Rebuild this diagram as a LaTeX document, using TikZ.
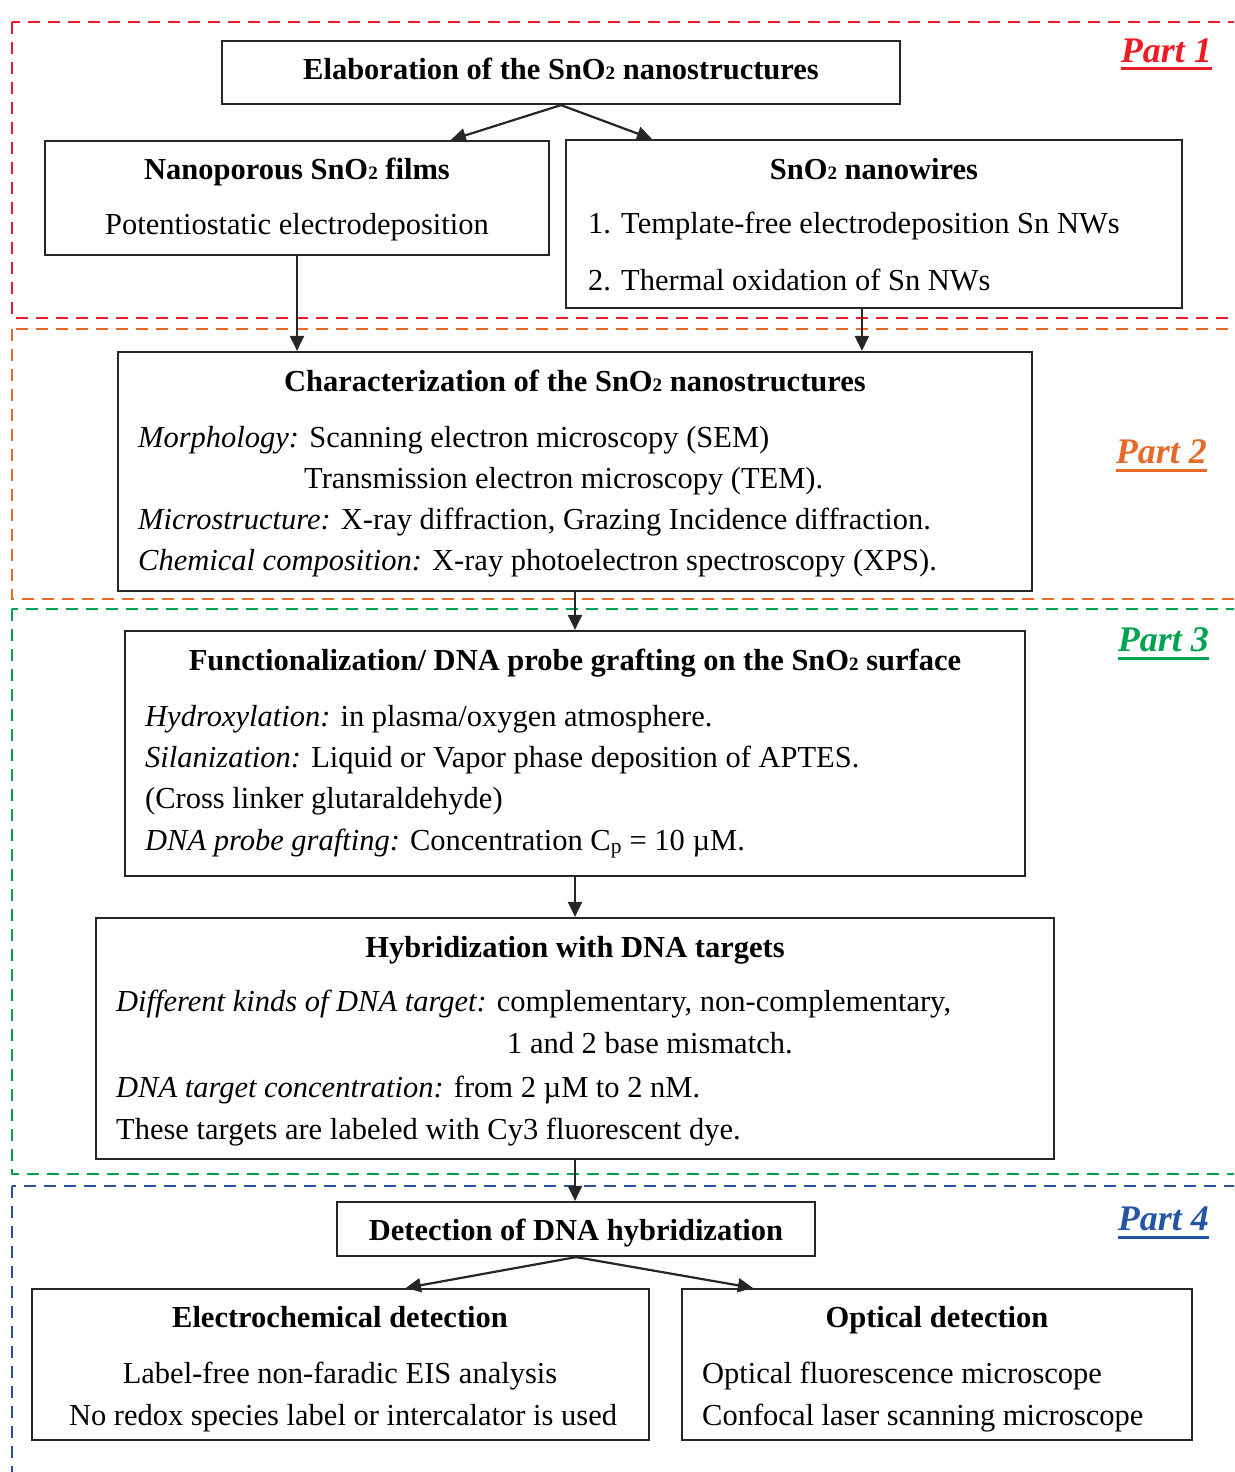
\documentclass[tikz,border=0pt]{standalone}
\usepackage{fontspec}
\setmainfont{Liberation Serif}
\usetikzlibrary{arrows.meta,fit}
\definecolor{pred}{RGB}{237,28,36}
\definecolor{porange}{RGB}{230,106,40}
\definecolor{pgreen}{RGB}{0,163,80}
\definecolor{pblue}{RGB}{36,84,168}
\newcommand{\snotwo}{SnO{\fontsize{19}{19}\selectfont 2}}
\begin{document}
\begin{tikzpicture}[x=1pt,y=-1pt,
  frame/.style={line width=2.8pt, dash pattern=on 12pt off 8pt},
  box/.style={draw=black!85, line width=2.2pt, inner sep=0pt, fit={#1}},
  txt/.style={inner sep=0pt, font=\fontsize{30.5}{36}\selectfont},
  ttl/.style={inner sep=0pt, font=\fontsize{30.5}{36}\selectfont\bfseries},
  partlbl/.style={inner sep=0pt, anchor=base east, font=\fontsize{36}{40}\selectfont\bfseries\itshape},
  arr/.style={draw=black!85, line width=2.2pt, -{Triangle[length=15pt,width=14pt]}},
  uline/.style={line width=3pt}
]
\useasboundingbox (0,0) rectangle (1234,1472);
\clip (0,0) rectangle (1234,1472);

% dashed part frames
\draw[frame, pred] (12,22) rectangle (1250,318);
\draw[frame, porange] (12,329) rectangle (1250,599);
\draw[frame, pgreen] (12,609) rectangle (1250,1174);
\draw[frame, pblue] (12,1186) rectangle (1250,1490);

% part labels
\node[partlbl, text=pred] (p1) at (1212,63) {Part 1};
\draw[uline, pred] ([yshift=-6pt]p1.base west) -- ([yshift=-6pt]p1.base east);
\node[partlbl, text=porange] (p2) at (1207,463) {Part 2};
\draw[uline, porange] ([yshift=-7pt]p2.base west) -- ([yshift=-7pt]p2.base east);
\node[partlbl, text=pgreen] (p3) at (1209,651) {Part 3};
\draw[uline, pgreen] ([yshift=-7pt]p3.base west) -- ([yshift=-7pt]p3.base east);
\node[partlbl, text=pblue] (p4) at (1209,1230) {Part 4};
\draw[uline, pblue] ([yshift=-7pt]p4.base west) -- ([yshift=-7pt]p4.base east);

% boxes
\node[box={(222,41) (900,104)}] (elab) {};
\node[box={(45,141) (549,255)}] (nano) {};
\node[box={(566,140) (1182,308)}] (wires) {};
\node[box={(118,352) (1032,591)}] (char) {};
\node[box={(125,631) (1025,876)}] (func) {};
\node[box={(96,918) (1054,1159)}] (hyb) {};
\node[box={(337,1202) (815,1256)}] (det) {};
\node[box={(32,1289) (649,1440)}] (elec) {};
\node[box={(682,1289) (1192,1440)}] (opt) {};

% texts
\node[ttl, anchor=base] (elabT) at (561,80) {Elaboration of the \snotwo{} nanostructures};

\node[ttl, anchor=base] (nanoT) at (297,179) {Nanoporous \snotwo{} films};
\node[txt, anchor=base] (nanoL) at (297,234) {Potentiostatic electrodeposition};

\node[ttl, anchor=base] (wiresT) at (874,179) {\snotwo{} nanowires};
\node[txt, anchor=base west] (wiresA) at (588,233) {1. Template-free electrodeposition Sn NWs};
\node[txt, anchor=base west] (wiresB) at (588,290) {2. Thermal oxidation of Sn NWs};

\node[ttl, anchor=base] (charT) at (575,391) {Characterization of the \snotwo{} nanostructures};
\node[txt, anchor=base west] (charA) at (138,447) {\textit{Morphology:} Scanning electron microscopy (SEM)};
\node[txt, anchor=base west] (charB) at (304,488) {Transmission electron microscopy (TEM).};
\node[txt, anchor=base west] (charC) at (138,529) {\textit{Microstructure:} X-ray diffraction, Grazing Incidence diffraction.};
\node[txt, anchor=base west] (charD) at (138,570) {\textit{Chemical composition:} X-ray photoelectron spectroscopy (XPS).};

\node[ttl, anchor=base] (funcT) at (575,670) {Functionalization/ DNA probe grafting on the \snotwo{} surface};
\node[txt, anchor=base west] (funcA) at (145,726) {\textit{Hydroxylation:} in plasma/oxygen atmosphere.};
\node[txt, anchor=base west] (funcB) at (145,767) {\textit{Silanization:} Liquid or Vapor phase deposition of APTES.};
\node[txt, anchor=base west] (funcC) at (145,808) {(Cross linker glutaraldehyde)};
\node[txt, anchor=base west] (funcD) at (145,850) {\textit{DNA probe grafting:} Concentration C\textsubscript{p} = 10 µM.};

\node[ttl, anchor=base] (hybT) at (575,957) {Hybridization with DNA targets};
\node[txt, anchor=base west] (hybA) at (116,1011) {\textit{Different kinds of DNA target:} complementary, non-complementary,};
\node[txt, anchor=base west] (hybB) at (507,1053) {1 and 2 base mismatch.};
\node[txt, anchor=base west] (hybC) at (116,1097) {\textit{DNA target concentration:} from 2 µM to 2 nM.};
\node[txt, anchor=base west] (hybD) at (116,1139) {These targets are labeled with Cy3 fluorescent dye.};

\node[ttl, anchor=base] (detT) at (576,1240) {Detection of DNA hybridization};

\node[ttl, anchor=base] (elecT) at (340,1327) {Electrochemical detection};
\node[txt, anchor=base] (elecA) at (340,1383) {Label-free non-faradic EIS analysis};
\node[txt, anchor=base] (elecB) at (343,1425) {No redox species label or intercalator is used};

\node[ttl, anchor=base] (optT) at (937,1327) {Optical detection};
\node[txt, anchor=base west] (optA) at (702,1383) {Optical fluorescence microscope};
\node[txt, anchor=base west] (optB) at (702,1425) {Confocal laser scanning microscope};

% connectors
\coordinate (nanoIn) at ([xshift=407pt]nano.north west);
\coordinate (wiresIn) at ([xshift=87pt]wires.north west);
\coordinate (wiresOut) at ([xshift=297pt]wires.south west);
\coordinate (elecIn) at ([xshift=375pt]elec.north west);
\coordinate (optIn) at ([xshift=72pt]opt.north west);

\draw[arr] (elab.south) -- (nanoIn);
\draw[arr] (elab.south) -- (wiresIn);
\draw[arr] (nano.south) -- (nano.south |- char.north);
\draw[arr] (wiresOut) -- (wiresOut |- char.north);
\draw[arr] (char.south) -- (func.north);
\draw[arr] (func.south) -- (hyb.north);
\draw[arr] (hyb.south) -- (hyb.south |- det.north);
\draw[arr] (det.south) -- (elecIn);
\draw[arr] (det.south) -- (optIn);
\end{tikzpicture}
\end{document}
